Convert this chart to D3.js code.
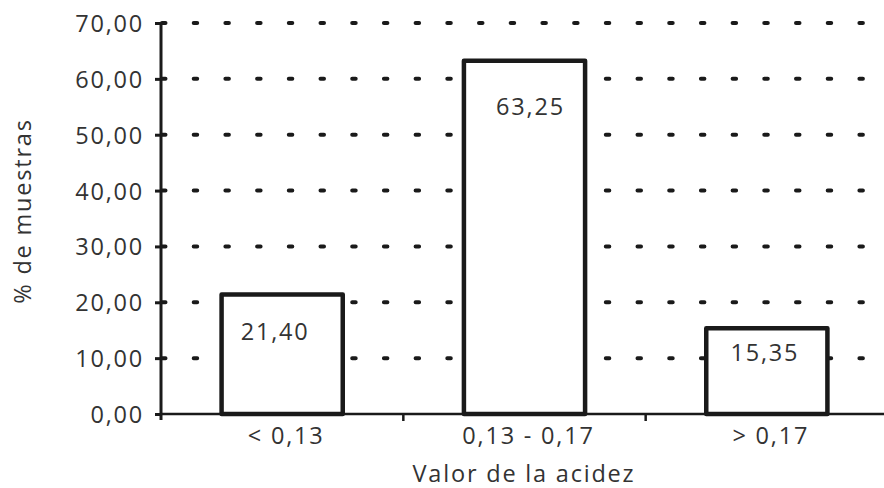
<!DOCTYPE html>
<html>
<head>
<meta charset="utf-8">
<script src="https://cdn.jsdelivr.net/npm/d3@7"></script>
<style>
  body { margin: 0; background: #fff; }
  text { font-family: "Open Sans", "DejaVu Sans", sans-serif; fill: #333; }
</style>
</head>
<body>
<div id="chart"></div>
<script>
// data
const categories = ['< 0,13', '0,13 - 0,17', '> 0,17'];
const percentages = [21.40, 63.25, 15.35];
const yTicks = [0, 10, 20, 30, 40, 50, 60, 70];

const width = 884, height = 488;
const margin = { top: 23, right: -4, bottom: 74, left: 161 };
const innerW = width - margin.left - margin.right;
const innerH = height - margin.top - margin.bottom;

const fontSize = '23.5px';
const spacing = '1.8px';

const fmt = v => v.toFixed(2).replace('.', ',');

const svg = d3.select('#chart')
    .append('svg')
    .attr('width', width)
    .attr('height', height);

const g = svg.append('g')
    .attr('transform', `translate(${margin.left},${margin.top})`);

const x = d3.scaleBand()
    .domain(categories)
    .range([0, innerW])
    .paddingInner(0.5)
    .paddingOuter(0.25);

const y = d3.scaleLinear()
    .domain([0, 70])
    .range([innerH, 0]);

// dotted gridlines
g.append('g')
    .selectAll('line')
    .data(yTicks.filter(t => t > 0))
    .enter()
    .append('line')
    .attr('x1', 1)
    .attr('x2', innerW)
    .attr('y1', d => y(d))
    .attr('y2', d => y(d))
    .attr('stroke', '#1a1a1a')
    .attr('stroke-width', 4)
    .attr('stroke-linecap', 'round')
    .attr('stroke-dasharray', '3.5,28.2');

// bars
g.selectAll('rect.bar')
    .data(percentages)
    .enter()
    .append('rect')
    .attr('class', 'bar')
    .attr('x', (d, i) => x(categories[i]))
    .attr('y', d => y(d))
    .attr('width', x.bandwidth())
    .attr('height', d => innerH - y(d))
    .attr('fill', '#fff')
    .attr('stroke', '#1a1a1a')
    .attr('stroke-width', 4.5)
    .attr('stroke-linejoin', 'round');

// value labels (offset below bar top differs a bit in the original)
const labelDy = [46, 54, 33];
const labelDx = [-7, 6, -2];
g.selectAll('text.val')
    .data(percentages)
    .enter()
    .append('text')
    .attr('class', 'val')
    .attr('x', (d, i) => x(categories[i]) + x.bandwidth() / 2 + labelDx[i])
    .attr('y', (d, i) => y(d) + labelDy[i])
    .attr('text-anchor', 'middle')
    .style('font-size', fontSize)
    .style('letter-spacing', spacing)
    .text(d => fmt(d));

// y axis
const yAxis = g.append('g')
    .call(d3.axisLeft(y).tickValues(yTicks).tickFormat(fmt).tickSize(6).tickPadding(11));
yAxis.select('.domain').attr('stroke', '#1a1a1a').attr('stroke-width', 3).attr('d', `M0,0V${innerH + 6}`);
yAxis.selectAll('.tick line').attr('stroke', '#1a1a1a').attr('stroke-width', 3);
yAxis.selectAll('.tick text')
    .style('font-size', fontSize)
    .style('letter-spacing', spacing)
    .attr('dy', '0.36em')
    .attr('fill', '#333');

// x axis: ticks sit on category boundaries
const xAxis = g.append('g')
    .attr('transform', `translate(0,${innerH})`);
xAxis.append('line')
    .attr('x1', 0).attr('x2', innerW)
    .attr('stroke', '#1a1a1a')
    .attr('stroke-width', 2.5);
const bounds = categories.slice(1).map(c => x(c) - x.step() * x.paddingInner() / 2);
xAxis.selectAll('line.tick')
    .data(bounds)
    .enter()
    .append('line')
    .attr('class', 'tick')
    .attr('x1', d => d).attr('x2', d => d)
    .attr('y1', 0).attr('y2', 7)
    .attr('stroke', '#1a1a1a')
    .attr('stroke-width', 2.5);
xAxis.selectAll('text')
    .data(categories)
    .enter()
    .append('text')
    .attr('x', d => x(d) + x.bandwidth() / 2 + 4)
    .attr('y', 30)
    .attr('text-anchor', 'middle')
    .style('font-size', fontSize)
    .style('letter-spacing', spacing)
    .text(d => d);

// axis titles
svg.append('text')
    .attr('x', 524)
    .attr('y', 482)
    .attr('text-anchor', 'middle')
    .style('font-size', fontSize)
    .style('letter-spacing', spacing)
    .text('Valor de la acidez');

svg.append('text')
    .attr('transform', 'translate(31,211) rotate(-90)')
    .attr('text-anchor', 'middle')
    .style('font-size', fontSize)
    .style('letter-spacing', spacing)
    .text('% de muestras');
</script>
</body>
</html>
